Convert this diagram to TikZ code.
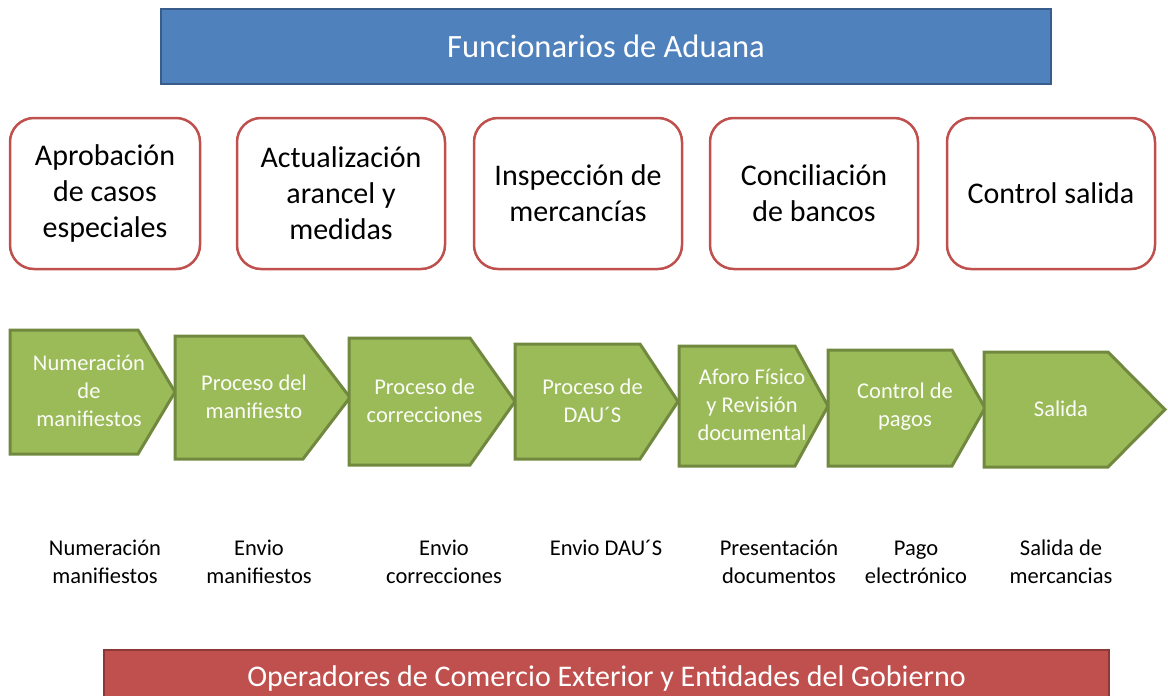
\documentclass[tikz,border=0pt]{standalone}
\usepackage{fontspec}
\setmainfont{Carlito}
\definecolor{aduanafill}{HTML}{4F81BD}
\definecolor{aduanaline}{HTML}{385D8A}
\definecolor{operfill}{HTML}{C0504D}
\definecolor{operline}{HTML}{8C3836}
\definecolor{taskline}{HTML}{C0504D}
\definecolor{stagefill}{HTML}{9BBB59}
\definecolor{stageline}{HTML}{71893F}
\begin{document}
\begin{tikzpicture} [
        x=1pt, y=-1pt,
        header/.style = {draw=aduanaline,fill=aduanafill,line width=2pt,text=white,
                         inner sep=0pt,font=\fontsize{32.5}{38}\selectfont},
        footer/.style = {header,draw=operline,fill=operfill,font=\fontsize{30}{36}\selectfont},
        task/.style = {draw=taskline,fill=white,line width=2.5pt,rounded corners=24pt,
                       align=center,inner sep=0pt,minimum height=151pt,
                       font=\fontsize{30}{36}\selectfont},
        stage/.style = {draw=stageline,fill=stagefill,line width=3pt,line join=miter},
        stage text/.style = {text=white!96!stagefill,align=center,
                             font=\fontsize{22.5}{28}\selectfont},
        exchange/.style = {align=center,anchor=north,inner sep=0pt,
                           font=\fontsize{22.5}{28}\selectfont},
    ]
    \useasboundingbox (0,0) rectangle (1168,696);
    % First the two actor bars
    \node[header,minimum width=890pt,minimum height=75pt] (aduana) at (606,46.5)
        {Funcionarios de Aduana};
    \node[footer,minimum width=1005pt,minimum height=56pt] (operadores) at (606.5,678)
        {Operadores de Comercio Exterior y Entidades del Gobierno};
    % Tasks of the customs officers
    \foreach \cx/\w/\name/\txt in {
            105/190/casos/{Aprobación\\de casos\\especiales},
            341/208/arancel/{Actualización\\arancel y\\medidas},
            578/208/inspeccion/{Inspección de\\mercancías},
            814/208/bancos/{Conciliación\\de bancos},
            1051/208/control/{Control salida}}
        \node[task,minimum width=\w pt] (\name) at (\cx,193.5) {\txt};
    % Then the chain of stages (left/top/bottom/corner/tip)
    \foreach \l/\t/\b/\c/\p/\name/\txt in {
            10/330/454/138/175/numeracion/{Numeración\\de\\manifiestos},
            175/336/459/303/350/manifiesto/{Proceso del\\manifiesto},
            349/338/465/470/515/correcciones/{Proceso de\\correcciones},
            515/344/459/640/678/daus/{Proceso de\\DAU´S},
            679/346/466/795/828/aforo/{Aforo Físico\\y Revisión\\documental},
            828/350/466/952/985/pagos/{Control de\\pagos},
            984/352/467/1108/1165/salida/{Salida}}
        {
        \draw[stage] (\l,\t) -- (\c,\t) -- (\p,{(\t+\b)/2}) -- (\c,\b) -- (\l,\b) -- cycle;
        \node[stage text] (\name) at ({(\l+\c)/2+15},{(\t+\b)/2-1}) {\txt};
        }
    % Exchanges with the operators
    \foreach \cx/\name/\txt in {
            105/envnum/{Numeración\\manifiestos},
            259/envman/{Envio\\manifiestos},
            444/envcor/{Envio\\correcciones},
            606/envdau/{Envio DAU´S},
            779/envdoc/{Presentación\\documentos},
            916/envpag/{Pago\\electrónico},
            1061/envsal/{Salida de\\mercancias}}
        \node[exchange] (\name) at (\cx,536) {\strut\txt};
\end{tikzpicture}
\end{document}
